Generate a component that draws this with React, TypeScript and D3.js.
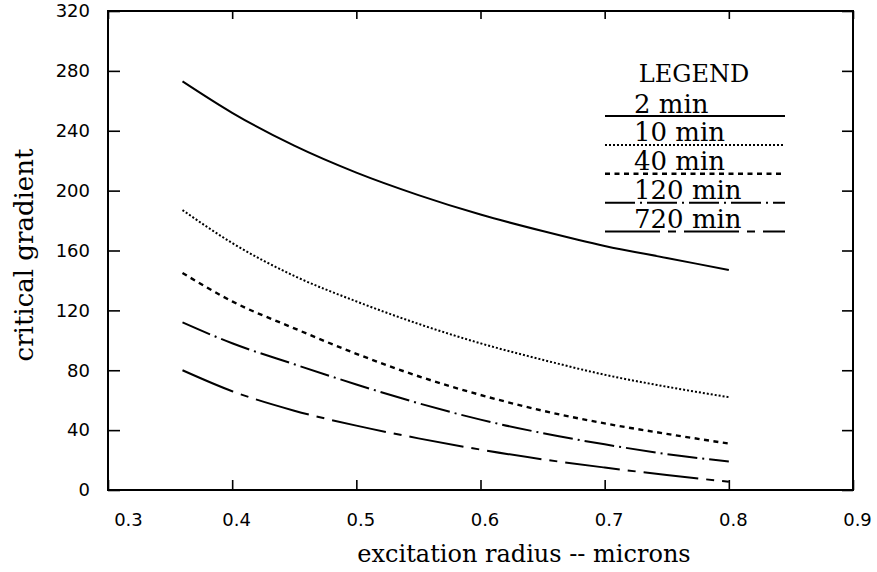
import React, { useEffect, useRef } from 'react';
import * as d3 from 'd3';

// excitation radius (microns) where the curves were sampled
const radius = [0.36, 0.4, 0.45, 0.5, 0.55, 0.6, 0.65, 0.7, 0.75, 0.8];

// critical gradient for each exposure time
const min2 = [273, 252, 230, 212, 197, 184, 173, 163, 155, 147];
const min10 = [187, 165, 143, 126, 111, 98, 87, 77, 69, 62];
const min40 = [145, 126, 108, 91, 76, 63.5, 53, 44.5, 37.5, 31];
const min120 = [112, 98, 84, 70.5, 58, 47, 38, 30.5, 24, 19];
const min720 = [80, 66, 53, 43, 34.5, 27, 20.5, 15, 10, 5.5];

const seriesNames = ['2 min', '10 min', '40 min', '120 min', '720 min'];
const seriesValues = [min2, min10, min40, min120, min720];
const dashes = ['none', '2,2', '5,4.5', '30,5,2,5', '55,8,8,8'];

const xTicks = [0.3, 0.4, 0.5, 0.6, 0.7, 0.8, 0.9];
const yTicks = [0, 40, 80, 120, 160, 200, 240, 280, 320];

const serif = '"DejaVu Serif", serif';
const sans = '"DejaVu Sans", sans-serif';

function App() {
  const svgRef = useRef<SVGSVGElement>(null);

  useEffect(() => {
    const svg = d3.select(svgRef.current);
    svg.selectAll('*').remove();

    const x = d3.scaleLinear().domain([0.3, 0.9]).range([108, 853]);
    const y = d3.scaleLinear().domain([0, 320]).range([490, 11]);

    const styleAxis = (g: any) => {
      g.select('.domain').remove();
      g.selectAll('line').attr('stroke', '#000').attr('stroke-width', 1.6);
      g.selectAll('text')
        .attr('fill', '#000')
        .style('font-family', sans)
        .style('font-size', '18px');
    };

    // left axis with labels
    svg
      .append('g')
      .attr('transform', `translate(${x(0.3)},0)`)
      .call(d3.axisLeft(y).tickValues(yTicks).tickSizeInner(-12).tickSizeOuter(0).tickPadding(18))
      .call(styleAxis);

    // bottom axis with labels
    svg
      .append('g')
      .attr('transform', `translate(0,${y(0)})`)
      .call(
        d3
          .axisBottom(x)
          .tickValues(xTicks)
          .tickSizeInner(-10)
          .tickSizeOuter(0)
          .tickPadding(23)
          .tickFormat(d3.format('.1f'))
      )
      .call(styleAxis)
      .selectAll('text')
      .attr('dx', (_: any, i: number) => (i === 0 ? 20 : 4));

    // top and right ticks, no labels
    svg
      .append('g')
      .attr('transform', `translate(0,${y(320)})`)
      .call(d3.axisTop(x).tickValues(xTicks).tickSizeInner(-8).tickSizeOuter(0).tickFormat(() => ''))
      .call(styleAxis);

    svg
      .append('g')
      .attr('transform', `translate(${x(0.9)},0)`)
      .call(d3.axisRight(y).tickValues(yTicks).tickSizeInner(-11).tickSizeOuter(0).tickFormat(() => ''))
      .call(styleAxis);

    // frame
    svg
      .append('rect')
      .attr('x', x(0.3))
      .attr('y', y(320))
      .attr('width', x(0.9) - x(0.3))
      .attr('height', y(0) - y(320))
      .attr('fill', 'none')
      .attr('stroke', '#000')
      .attr('stroke-width', 2);

    // curves
    const line = d3
      .line<number>()
      .x((_, i) => x(radius[i]))
      .y((d) => y(d))
      .curve(d3.curveMonotoneX);

    seriesValues.forEach((vals, i) => {
      svg
        .append('path')
        .attr('d', line(vals))
        .attr('fill', 'none')
        .attr('stroke', '#000')
        .attr('stroke-width', i === 2 ? 2.4 : 2)
        .attr('stroke-dasharray', dashes[i]);
    });

    // legend
    const legend = svg.append('g');
    legend
      .append('text')
      .attr('x', 694)
      .attr('y', 82)
      .attr('text-anchor', 'middle')
      .style('font-family', serif)
      .style('font-size', '24px')
      .text('LEGEND');

    seriesNames.forEach((name, i) => {
      const ly = 116 + i * 28.9;
      legend
        .append('line')
        .attr('x1', 605)
        .attr('x2', 785)
        .attr('y1', ly)
        .attr('y2', ly)
        .attr('stroke', '#000')
        .attr('stroke-width', i === 2 ? 2.4 : 2)
        .attr('stroke-dasharray', dashes[i]);
      legend
        .append('text')
        .attr('x', 634)
        .attr('y', ly - 3.5)
        .style('font-family', serif)
        .style('font-size', '26px')
        .text(name);
    });

    // axis titles
    svg
      .append('text')
      .attr('x', 524)
      .attr('y', 562)
      .attr('text-anchor', 'middle')
      .style('font-family', serif)
      .style('font-size', '24px')
      .text('excitation radius -- microns');

    svg
      .append('text')
      .attr('transform', 'translate(33,255) rotate(-90)')
      .attr('text-anchor', 'middle')
      .style('font-family', serif)
      .style('font-size', '26px')
      .text('critical gradient');
  }, []);

  return (
    <svg
      ref={svgRef}
      width={877}
      height={572}
      style={{ position: 'absolute', left: 0, top: 0, background: '#fff' }}
    ></svg>
  );
}

export default App;
